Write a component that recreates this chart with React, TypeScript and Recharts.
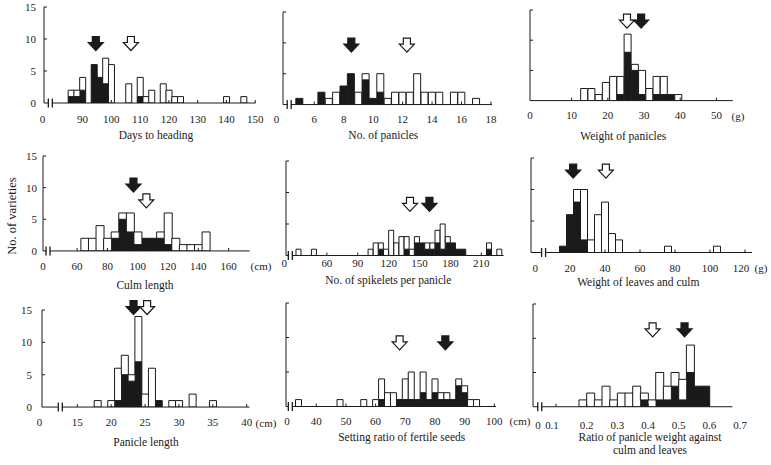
import { BarChart, Bar, XAxis, YAxis, ReferenceDot } from 'recharts'

const FONT = '"Liberation Serif", "Times New Roman", serif'
const INK = '#1a1a1a'

// ---- Days to heading (2-day bins) ----
const headingBins = [86, 88, 90, 94, 96, 98, 100, 106, 110, 112, 114, 118, 120, 122, 124, 140, 146]
const headingAll = [2, 2, 4, 6, 4, 7, 6, 3, 4, 1, 2, 3, 2, 1, 1, 1, 1]
const headingBlack = [1, 1, 2, 6, 4, 3, 0, 0, 1, 0, 0, 0, 0, 0, 0, 0, 0]
const headingTicks = [90, 100, 110, 120, 130, 140, 150]
const headingMeans = { black: 94.6, white: 106.8 }

// ---- No. of panicles (0.5 bins) ----
const panicleBins = [5, 6.5, 7, 7.5, 8, 8.5, 9, 9.5, 10, 10.5, 11, 11.5, 12, 12.5, 13, 13.5, 14, 14.5, 15.5, 16, 17]
const panicleAll = [1, 2, 1, 2, 3, 5, 2, 5, 1, 5, 1, 2, 2, 2, 5, 2, 2, 2, 2, 2, 1]
const panicleBlack = [1, 2, 0, 0, 3, 5, 0, 4, 1, 2, 0, 0, 0, 0, 0, 0, 0, 0, 0, 0, 0]
const panicleTicks = [6, 8, 10, 12, 14, 16, 18]
const panicleMeans = { black: 8.52, white: 12.29 }

// ---- Weight of panicles (g) ----
const panWtBins = [13.5, 15.5, 17.5, 19.5, 21.5, 23.5, 25.5, 27.5, 29.5, 31.5, 33.5, 35.5, 37.5, 39.5]
const panWtAll = [2, 2, 1, 3, 4, 4, 11, 6, 5, 2, 4, 4, 1, 1]
const panWtBlack = [0, 0, 0, 0, 0, 1, 8, 5, 1, 0, 1, 1, 1, 0]
const panWtTicks = [10, 20, 30, 40, 50]
const panWtMeans = { black: 29.2, white: 25.3 }

// ---- Culm length (cm) ----
const culmBins = [65, 70, 75, 80, 85, 90, 95, 100, 105, 110, 115, 120, 125, 130, 135, 140, 145]
const culmAll = [2, 2, 4, 2, 3, 6, 6, 3, 2, 2, 3, 6, 2, 1, 1, 1, 3]
const culmBlack = [0, 0, 0, 0, 2, 5, 3, 1, 2, 2, 2, 1, 0, 0, 0, 0, 0]
const culmTicks = [60, 80, 100, 120, 140, 160]
const culmMeans = { black: 97.2, white: 105.7 }

// ---- No. of spikelets per panicle ----
const spikeBins = [32.5, 47.5, 102.5, 107.5, 112.5, 117.5, 122.5, 127.5, 132.5, 137.5, 142.5, 147.5, 152.5, 157.5, 162.5, 167.5, 172.5, 177.5, 182.5, 187.5, 192.5, 217.5, 227.5]
const spikeAll = [1, 1, 1, 2, 2, 1, 4, 2, 3, 3, 1, 3, 2, 2, 2, 4, 5, 3, 2, 1, 1, 2, 1]
const spikeBlack = [0, 0, 0, 0, 1, 0, 0, 0, 0, 1, 0, 2, 2, 1, 1, 2, 1, 2, 2, 1, 1, 1, 0]
const spikeTicks = [60, 90, 120, 150, 180, 210]
const spikeMeans = { black: 159.6, white: 140.7 }

// ---- Weight of leaves and culm (g) ----
const leafBins = [16, 20, 24, 28, 32, 36, 40, 44, 48, 76, 104]
const leafAll = [1, 6, 10, 10, 2, 6, 8, 3, 2, 1, 1]
const leafBlack = [1, 6, 8, 2, 0, 0, 0, 0, 0, 0, 0]
const leafTicks = [20, 40, 60, 80, 100, 120]
const leafMeans = { black: 21.8, white: 40.5 }

// ---- Panicle length (cm) ----
const lenBins = [18, 20, 21, 22, 23, 24, 25, 26, 27, 29, 30, 32, 35]
const lenAll = [1, 1, 6, 8, 5, 14, 2, 6, 1, 1, 1, 2, 1]
const lenBlack = [0, 0, 1, 5, 4, 7, 0, 0, 1, 0, 0, 0, 0]
const lenTicks = [15, 20, 25, 30, 35, 40]
const lenMeans = { black: 23.3, white: 25.3 }

// ---- Setting ratio of fertile seeds ----
const setBins = [34, 48, 56, 60, 62, 64, 66, 68, 70, 72, 74, 76, 78, 80, 82, 84, 86, 88, 90, 92, 94]
const setAll = [1, 1, 1, 1, 4, 2, 2, 1, 4, 5, 1, 5, 1, 4, 2, 2, 1, 4, 3, 1, 1]
const setBlack = [0, 0, 0, 0, 1, 0, 0, 1, 1, 1, 1, 2, 1, 2, 1, 1, 1, 3, 2, 0, 0]
const setTicks = [40, 50, 60, 70, 80, 90, 100]
const setMeans = { black: 83.5, white: 68.1 }

// ---- Ratio of panicle weight against culm and leaves ----
const ratioBins = [0.1875, 0.2125, 0.2375, 0.2625, 0.2875, 0.3125, 0.3375, 0.3625, 0.3875, 0.4125, 0.4375, 0.4625, 0.4875, 0.5125, 0.5375, 0.5625, 0.5875]
const ratioAll = [1, 2, 1, 3, 1, 2, 2, 3, 2, 1, 5, 3, 5, 4, 9, 3, 3]
const ratioBlack = [0, 0, 0, 0, 0, 0, 0, 0, 1, 0, 1, 1, 3, 1, 5, 3, 3]
const ratioTicks = [0.1, 0.2, 0.3, 0.4, 0.5, 0.6]
const ratioMeans = { black: 0.519, white: 0.415 }

interface Extra {
  text: string
  x: number
  y: number
}

interface PanelSpec {
  bins: number[]
  all: number[]
  black: number[]
  ticks: number[]
  means: { black: number; white: number }
  // layout, page pixels
  left: number
  right: number
  base: number
  unit: number
  domain: [number, number]
  brk?: number
  zeroDx: number
  tickDy: number
  tickDx?: Record<string, number>
  showY: boolean
  yDx: number
  arrowBlackY: number
  arrowWhiteY: number
  title: string[]
  titleX: number
  titleY: number
  extras: Extra[]
}

const panels: PanelSpec[] = [
  {
    bins: headingBins, all: headingAll, black: headingBlack, ticks: headingTicks, means: headingMeans,
    left: 43.5, right: 255, base: 103.3, unit: 6.4, domain: [76.6, 150.1], brk: 78.8,
    zeroDx: -1.5, tickDy: 19.5, showY: true, yDx: -8, arrowBlackY: 8.2, arrowWhiteY: 8.2,
    title: ['Days to heading'], titleX: 156, titleY: 135, extras: [],
  },
  {
    bins: panicleBins, all: panicleAll, black: panicleBlack, ticks: panicleTicks, means: panicleMeans,
    left: 283.3, right: 492.3, base: 104.3, unit: 6.17, domain: [3.88, 18.07], brk: 4.3,
    zeroDx: -6.6, tickDy: 18.5, showY: false, yDx: 0, arrowBlackY: 8.5, arrowWhiteY: 8.5,
    title: ['No. of panicles'], titleX: 383.3, titleY: 135, extras: [],
  },
  {
    bins: panWtBins, all: panWtAll, black: panWtBlack, ticks: panWtTicks, means: panWtMeans,
    left: 530, right: 732.7, base: 100.7, unit: 6.04, domain: [-1.5, 54.5],
    zeroDx: 0, tickDy: 18.8, showY: false, yDx: 0, arrowBlackY: 12, arrowWhiteY: 12,
    title: ['Weight of panicles'], titleX: 623.3, titleY: 136,
    extras: [{ text: '(g)', x: 738, y: 115.7 }],
  },
  {
    bins: culmBins, all: culmAll, black: culmBlack, ticks: culmTicks, means: culmMeans,
    left: 43.3, right: 250, base: 250.7, unit: 6.33, domain: [37.5, 173.9], brk: 40.8,
    zeroDx: 0, tickDy: 18.8, showY: true, yDx: -6, arrowBlackY: 9.3, arrowWhiteY: 6.8,
    title: ['Culm length'], titleX: 145, titleY: 285,
    extras: [{ text: '(cm)', x: 261, y: 265.7 }],
  },
  {
    bins: spikeBins, all: spikeAll, black: spikeBlack, ticks: spikeTicks, means: spikeMeans,
    left: 285.7, right: 503.3, base: 255.7, unit: 6.3, domain: [20.3, 231.6], brk: 24.5,
    zeroDx: -1.7, tickDy: 11.4, showY: false, yDx: 0, arrowBlackY: 7, arrowWhiteY: 7,
    title: ['No. of spikelets per panicle'], titleX: 388.3, titleY: 280, extras: [],
  },
  {
    bins: leafBins, all: leafAll, black: leafBlack, ticks: leafTicks, means: leafMeans,
    left: 530.7, right: 751.7, base: 252.7, unit: 6.3, domain: [-2.29, 124], brk: 4.9,
    zeroDx: 4.3, tickDy: 19.4, tickDx: { '120': -4 }, showY: false, yDx: 0,
    arrowBlackY: 11.8, arrowWhiteY: 11.8,
    title: ['Weight of leaves and culm'], titleX: 638.3, titleY: 282,
    extras: [{ text: '(g)', x: 761, y: 268.3 }],
  },
  {
    bins: lenBins, all: lenAll, black: lenBlack, ticks: lenTicks, means: lenMeans,
    left: 41.7, right: 249.3, base: 407.3, unit: 6.47, domain: [9.8, 40.42], brk: 12.5,
    zeroDx: -2.4, tickDy: 19.2, showY: true, yDx: -10, arrowBlackY: 14.3, arrowWhiteY: 14.3,
    title: ['Panicle length'], titleX: 146, titleY: 441.7,
    extras: [{ text: '(cm)', x: 266, y: 422.7 }],
  },
  {
    bins: setBins, all: setAll, black: setBlack, ticks: setTicks, means: setMeans,
    left: 285.7, right: 495.7, base: 406.7, unit: 6.9, domain: [29.8, 100.57], brk: 31.26,
    zeroDx: 1, tickDy: 18.8, showY: false, yDx: 0, arrowBlackY: 8.2, arrowWhiteY: 8.2,
    title: ['Setting ratio of fertile seeds'], titleX: 401.7, titleY: 437,
    extras: [{ text: '(cm)', x: 520, y: 420.5 }],
  },
  {
    bins: ratioBins, all: ratioAll, black: ratioBlack, ticks: ratioTicks, means: ratioMeans,
    left: 533.3, right: 732.7, base: 406.7, unit: 6.85, domain: [0.025, 0.675], brk: 0.047,
    zeroDx: 5, tickDy: 22, tickDx: { '0.1': -4 }, showY: false, yDx: 0,
    arrowBlackY: 10.2, arrowWhiteY: 10.2,
    title: ['Ratio of panicle weight against', 'culm and leaves'], titleX: 650, titleY: 443,
    extras: [{ text: '0.7', x: 740, y: 425 }],
  },
]

const YW = 30
const MT = 24
const MR = 12
const XH = 34

function arrowShape(dark: boolean) {
  return (props: any) => {
    const { cx, cy } = props
    if (cx == null || cy == null) return <g />
    const pts = [
      [cx, cy], [cx - 7.5, cy - 8], [cx - 3.5, cy - 8], [cx - 3.5, cy - 14],
      [cx + 3.5, cy - 14], [cx + 3.5, cy - 8], [cx + 7.5, cy - 8],
    ]
    return (
      <polygon
        points={pts.map((p) => p.join(',')).join(' ')}
        fill={dark ? INK : '#fff'}
        stroke={INK}
        strokeWidth={1.2}
      />
    )
  }
}

function BreakMark(props: any) {
  const { cx, cy } = props
  if (cx == null || cy == null) return <g />
  return (
    <g>
      <rect x={cx - 1.6} y={cy - 1.2} width={3.2} height={2.4} fill="#fff" />
      <line x1={cx - 2} x2={cx - 2} y1={cy - 4.5} y2={cy + 4.5} stroke={INK} strokeWidth={1.3} />
      <line x1={cx + 2} x2={cx + 2} y1={cy - 4.5} y2={cy + 4.5} stroke={INK} strokeWidth={1.3} />
    </g>
  )
}

const svgText = { fontFamily: FONT, fontSize: 11 }

function Panel({ p }: { p: PanelSpec }) {
  const plotH = 15 * p.unit
  const W = YW + (p.right - p.left) + MR
  const H = MT + plotH + XH
  const boxLeft = p.left - YW
  const boxTop = p.base - plotH - MT
  const rows = p.bins.map((b, i) => ({ x: b, black: p.black[i], white: p.all[i] - p.black[i] }))

  const xTick = (props: any) => {
    const { x, y, payload } = props
    const v = payload.value
    const isZero = v === p.domain[0]
    const dx = isZero ? p.zeroDx : (p.tickDx?.[String(v)] ?? 0)
    return (
      <g>
        {!isZero && <line x1={x} x2={x} y1={y} y2={y - 3} stroke={INK} />}
        <text x={x + dx} y={y + p.tickDy} textAnchor="middle" style={svgText} fill={INK}>
          {isZero ? '0' : String(v)}
        </text>
      </g>
    )
  }

  const yTick = (props: any) => {
    const { x, y, payload } = props
    return (
      <g>
        {payload.value > 0 && <line x1={x} x2={x + 3} y1={y} y2={y} stroke={INK} />}
        {p.showY && (
          <text x={x + p.yDx} y={y + 4} textAnchor="end" style={svgText} fill={INK}>
            {payload.value}
          </text>
        )}
      </g>
    )
  }

  return (
    <>
      <div style={{ position: 'absolute', left: boxLeft, top: boxTop }}>
        <BarChart
          width={W}
          height={H}
          data={rows}
          margin={{ top: MT, right: MR, bottom: 0, left: 0 }}
          barCategoryGap={0}
          barGap={0}
        >
          <XAxis
            type="number"
            dataKey="x"
            domain={p.domain}
            allowDataOverflow
            ticks={[p.domain[0], ...p.ticks]}
            interval={0}
            height={XH}
            tickLine={false}
            tickSize={0}
            tickMargin={0}
            axisLine={{ stroke: INK }}
            tick={xTick}
          />
          <YAxis
            type="number"
            domain={[0, 15]}
            allowDataOverflow
            ticks={[0, 5, 10, 15]}
            interval={0}
            width={YW}
            tickLine={false}
            tickSize={0}
            tickMargin={0}
            axisLine={{ stroke: INK }}
            tick={yTick}
          />
          <Bar dataKey="black" stackId="s" fill={INK} stroke={INK} isAnimationActive={false} />
          <Bar dataKey="white" stackId="s" fill="#fff" stroke={INK} isAnimationActive={false} />
          {p.brk !== undefined && (
            <ReferenceDot x={p.brk} y={0} ifOverflow="visible" shape={BreakMark} />
          )}
          <ReferenceDot x={p.means.black} y={p.arrowBlackY} ifOverflow="visible" shape={arrowShape(true)} />
          <ReferenceDot x={p.means.white} y={p.arrowWhiteY} ifOverflow="visible" shape={arrowShape(false)} />
        </BarChart>
      </div>
      <div
        style={{
          position: 'absolute',
          left: p.titleX,
          top: p.titleY,
          transform: 'translate(-50%, -50%)',
          textAlign: 'center',
          whiteSpace: 'nowrap',
          fontSize: 11.5,
          lineHeight: '12.5px',
          color: INK,
        }}
      >
        {p.title.map((t) => (
          <div key={t}>{t}</div>
        ))}
      </div>
      {p.extras.map((e) => (
        <div
          key={e.text}
          style={{
            position: 'absolute',
            left: e.x,
            top: e.y,
            transform: 'translate(-50%, -50%)',
            whiteSpace: 'nowrap',
            fontSize: 11,
            lineHeight: '12px',
            color: INK,
          }}
        >
          {e.text}
        </div>
      ))}
    </>
  )
}

export default function App() {
  return (
    <div
      style={{
        position: 'fixed',
        left: 0,
        top: 0,
        width: 771,
        height: 465,
        background: '#fff',
        overflow: 'hidden',
        fontFamily: FONT,
      }}
    >
      {panels.map((p, i) => (
        <Panel key={i} p={p} />
      ))}
      <div
        style={{
          position: 'absolute',
          left: 12,
          top: 216,
          transform: 'translate(-50%, -50%) rotate(-90deg)',
          whiteSpace: 'nowrap',
          fontSize: 12.5,
          color: INK,
        }}
      >
        No. of varieties
      </div>
    </div>
  )
}
